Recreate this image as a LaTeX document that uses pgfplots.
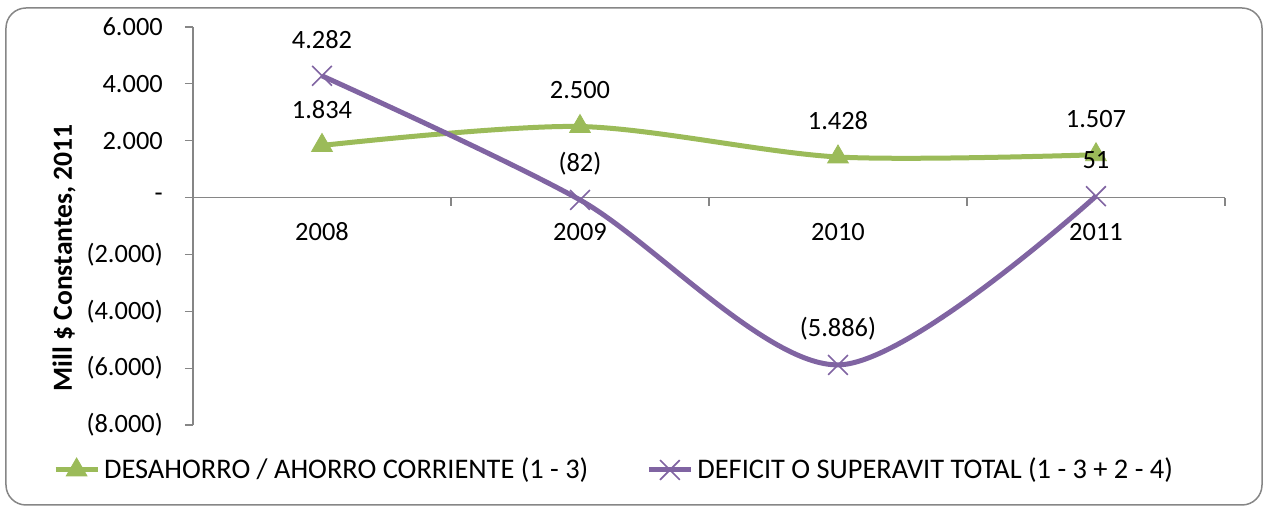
\documentclass[border=0pt]{standalone}
\usepackage{pgfplots}
\pgfplotsset{compat=1.18}
\usepackage{fontspec}
\setmainfont{Carlito}
\definecolor{cgreen}{HTML}{9BBB59}
\definecolor{cpurple}{HTML}{8064A2}
\definecolor{axgray}{HTML}{868686}
\begin{document}
\fontsize{13.2}{15}\selectfont
\begin{tikzpicture}
\begin{axis}[
  scale only axis, width=516pt, height=199pt,
  xmin=-0.5, xmax=3.5, ymin=-8000, ymax=6000,
  axis x line=middle, axis y line=left,
  axis line style={axgray, line width=0.6pt, -},
  clip=false,
  tick align=outside,
  xtick={0,1,2,3}, xticklabels={2008,2009,2010,2011},
  minor xtick={-0.5,0.5,1.5,2.5,3.5},
  major x tick style={draw=none},
  minor x tick style={axgray, line width=0.6pt},
  minor tick length=4pt,
  major tick length=4pt,
  ytick={-8000,-6000,...,6000},
  yticklabels={{(8.000)},{(6.000)},{(4.000)},{(2.000)},{-},{2.000},{4.000},{6.000}},
  ytick style={axgray, line width=0.6pt},
  xticklabel style={anchor=center, yshift=-13pt},
  yticklabel style={anchor=east, xshift=-6.5pt},
  ylabel={\bfseries Mill \$ Constantes, 2011},
  ylabel style={at={(rel axis cs:-0.125,0.42)}, anchor=center, font=\fontsize{13.8}{16}\selectfont},
  point meta=explicit symbolic,
  nodes near coords,
  every node near coord/.append style={anchor=center, yshift=18pt, text=black, font=\fontsize{13.2}{15}\selectfont},
  legend columns=2,
  legend style={at={(rel axis cs:0.409,-0.113)}, anchor=center, draw=none, fill=none,
    font=\fontsize{14.2}{16}\selectfont,
    /tikz/every even column/.append style={column sep=27pt}},
  legend image code/.code={\draw[mark repeat=2,mark phase=2,#1] plot coordinates {(0pt,0pt) (10.5pt,0pt) (21pt,0pt)};},
]
\addplot[cgreen, line width=2.5pt, smooth, mark=triangle*, mark size=6pt,
  mark options={solid, fill=cgreen, draw=cgreen, line width=0.4pt}]
  coordinates {(0,1834) [1.834] (1,2500) [2.500] (2,1428) [1.428] (3,1507) [1.507]};
\addlegendentry{DESAHORRO / AHORRO CORRIENTE (1 - 3)}
\addplot[cpurple, line width=2.5pt, smooth, mark=x, mark size=7pt,
  mark options={solid, line width=0.8pt}]
  coordinates {(0,4282) [4.282] (1,-82) [(82)] (2,-5886) [(5.886)] (3,51) [51]};
\addlegendentry{DEFICIT O SUPERAVIT TOTAL (1 - 3 + 2 - 4)}
\coordinate (O) at (rel axis cs:0,0);
\end{axis}
\draw[axgray, line width=0.75pt, rounded corners=10pt, shift={(O)}] (-93.5pt,-40pt) rectangle (534.5pt,208.5pt);
\pgfresetboundingbox
\path[use as bounding box, shift={(O)}] (-96.5pt,-41.5pt) rectangle (536.5pt,212.5pt);
\end{tikzpicture}
\end{document}
